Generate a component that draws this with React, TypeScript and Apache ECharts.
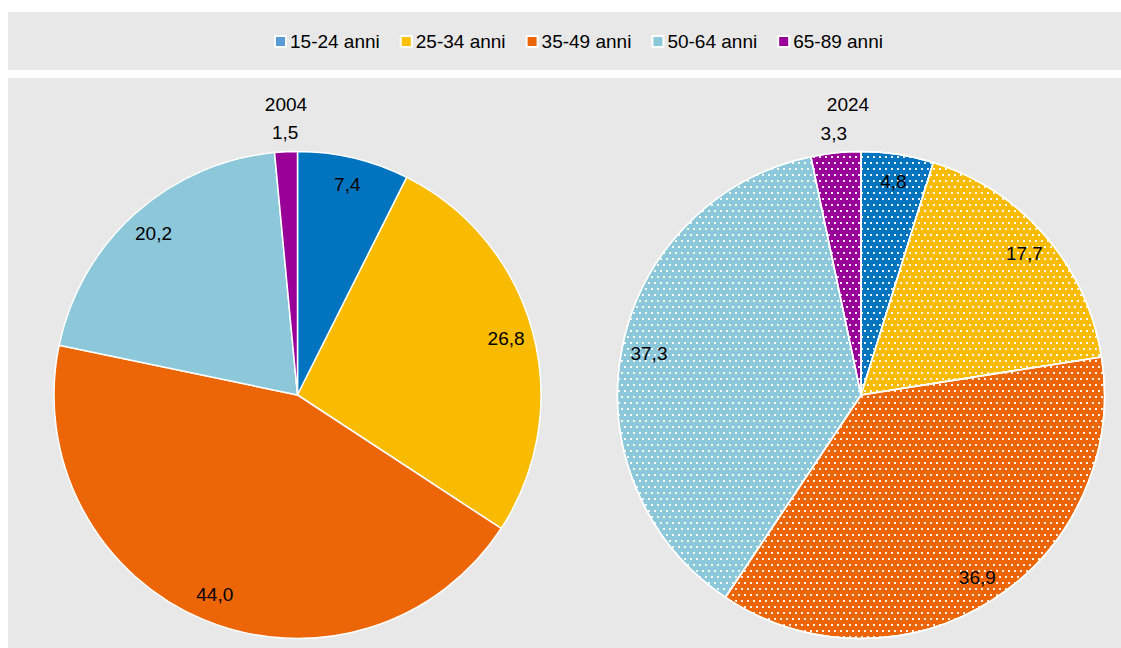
import React, { useEffect, useRef } from "react";
import * as echarts from "echarts";

const categories = ["15-24 anni", "25-34 anni", "35-49 anni", "50-64 anni", "65-89 anni"];
const years = ["2004", "2024"];
const values2004 = [7.4, 26.8, 44.0, 20.2, 1.5];
const values2024 = [4.8, 17.7, 36.9, 37.3, 3.3];

const sliceColors = ["#0074BF", "#F9BB00", "#EC6608", "#8DC8DA", "#980098"];
const legendColors = ["#5B9BD5", "#FFC000", "#EC6608", "#8DC8DA", "#980098"];

const FONT = "'Liberation Sans Narrow', 'Arial Narrow', 'Liberation Sans', Arial, sans-serif";
const fmt = (v: number) => v.toFixed(1).replace(".", ",");
const SMALL = 4;

export default function App() {
  const ref = useRef<HTMLDivElement>(null);
  useEffect(() => {
    if (!ref.current) return;
    const prevMargin = document.body.style.margin;
    document.body.style.margin = "0";
    const chart = echarts.init(ref.current, null, { renderer: "svg" });
    const R = 243.5;
    const centers: [number, number][] = [
      [297.5, 395],
      [861, 395],
    ];
    const decal = {
      symbol: "rect",
      symbolSize: 1,
      color: "rgba(255,255,255,0.9)",
      dashArrayX: [
        [2, 4],
        [0, 3, 2, 1],
      ],
      dashArrayY: [2, 3.5],
      rotation: 0,
    };
    const seriesSets = [values2004, values2024];
    const series: any[] = [];
    seriesSets.forEach((vals, i) => {
      series.push({
        type: "pie",
        name: years[i],
        center: centers[i],
        radius: [0, R],
        startAngle: 90,
        clockwise: true,
        silent: true,
        avoidLabelOverlap: false,
        label: { show: false },
        labelLine: { show: false },
        itemStyle: {
          borderColor: "#ffffff",
          borderWidth: 1.5,
          ...(i === 1 ? { decal } : {}),
        },
        data: vals.map((v, k) => ({
          name: categories[k],
          value: v,
          itemStyle: { color: sliceColors[k] },
        })),
      });
      // inner labels
      series.push({
        type: "pie",
        center: centers[i],
        radius: [203, 223],
        startAngle: 90,
        silent: true,
        avoidLabelOverlap: false,
        itemStyle: { color: "rgba(0,0,0,0)" },
        emphasis: { disabled: true },
        labelLine: { show: false },
        label: {
          show: true,
          position: "inside",
          fontFamily: FONT,
          fontSize: 19,
          color: "#000",
          formatter: (p: any) => (p.value < SMALL ? "" : fmt(p.value)),
        },
        data: vals.map((v, k) => ({ name: categories[k], value: v })),
      });
      // outer labels for small slices
      series.push({
        type: "pie",
        center: centers[i],
        radius: [250, 270],
        startAngle: 90,
        silent: true,
        avoidLabelOverlap: false,
        itemStyle: { color: "rgba(0,0,0,0)" },
        emphasis: { disabled: true },
        labelLine: { show: false },
        label: {
          show: true,
          position: "inside",
          fontFamily: FONT,
          fontSize: 19,
          color: "#000",
          formatter: (p: any) => (p.value < SMALL ? fmt(p.value) : ""),
        },
        data: vals.map((v, k) => ({ name: categories[k], value: v })),
      });
    });

    chart.setOption({
      animation: false,
      backgroundColor: "#ffffff",
      graphic: [
        {
          type: "rect",
          z: -10,
          silent: true,
          shape: { x: 8, y: 12, width: 1113, height: 58 },
          style: { fill: "#E8E8E8" },
        },
        {
          type: "rect",
          z: -10,
          silent: true,
          shape: { x: 8, y: 78, width: 1113, height: 570 },
          style: { fill: "#E8E8E8" },
        },
      ],
      title: years.map((y, i) => ({
        text: y,
        left: i === 0 ? 281 : 843,
        top: 90,
        textAlign: "center",
        textStyle: { fontFamily: FONT, fontSize: 19, fontWeight: "normal", color: "#000" },
      })),
      legend: {
        left: 274,
        top: 32,
        padding: 0,
        itemWidth: 11,
        itemHeight: 11,
        itemGap: 20,
        icon: "rect",
        selectedMode: false,
        textStyle: { fontFamily: FONT, fontSize: 19, color: "#000", padding: [0, 0, 0, -1] },
        data: categories.map((c, k) => ({ name: c, itemStyle: { color: legendColors[k], decal: "none" } })),
      },
      series,
    });
    return () => {
      chart.dispose();
      document.body.style.margin = prevMargin;
    };
  }, []);
  return <div ref={ref} style={{ width: 1121, height: 648 }} />;
}
